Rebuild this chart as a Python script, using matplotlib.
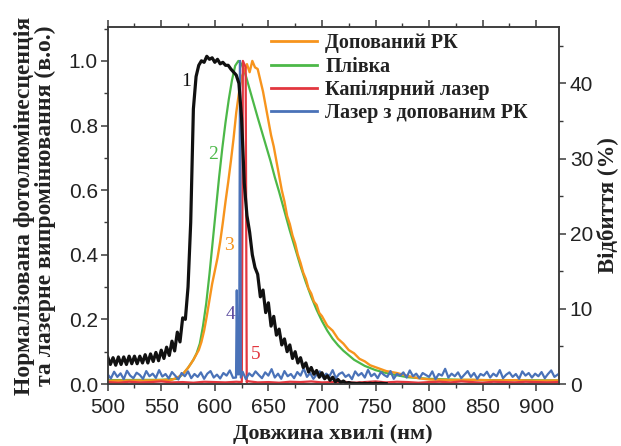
import numpy as np
import matplotlib
matplotlib.use("Agg")
import matplotlib.pyplot as plt
from matplotlib.lines import Line2D
from matplotlib.ticker import MultipleLocator, FormatStrFormatter

# ---------------- data ----------------
# Reflectance of the photonic crystal (curve 1), %, sampled every 2.5 nm from 500 nm
refl_start, refl_step = 500.0, 2.5
refl_pct = [3.6, 2.6, 3.5, 2.5, 3.6, 2.6, 3.6, 2.6, 3.7, 2.7, 3.7, 2.7, 3.7, 2.8, 3.9, 2.8,
            4.0, 3.0, 4.2, 3.1, 4.5, 3.4, 4.9, 3.8, 5.7, 4.4, 6.9, 5.6, 8.8, 8.6, 12.9, 21.5,
            36.6, 40.9, 42.4, 43.0, 42.8, 43.6, 43.2, 43.4, 42.8, 43.2, 42.6, 42.8, 42.4, 42.4,
            41.9, 41.5, 41.1, 40.0, 35.3, 26.7, 22.4, 20.2, 17.2, 15.5, 14.6, 11.6, 12.5, 9.5,
            10.8, 7.7, 9.0, 6.5, 7.3, 5.2, 6.0, 4.3, 5.2, 3.4, 4.3, 2.8, 3.5, 2.2, 2.8, 1.6,
            2.2, 1.3, 1.8, 0.9, 1.5, 0.7, 1.1, 0.5, 0.9, 0.3, 0.6, 0.2, 0.4, 0.1, 0.2, 0.1,
            0.1, 0.05, 0.1, 0.05, 0.1, 0.05, 0.1, 0.05, 0.1, 0.05, 0.1, 0.05, 0.05]

# Photoluminescence of the film (curve 2), normalized
film_wl = [500, 550, 565, 570, 575, 580, 583, 586, 589, 592, 595, 598, 601, 604, 607, 610,
           613, 616, 619, 622, 625, 628, 631, 634, 637, 640, 644, 648, 652, 656, 660, 665,
           670, 675, 680, 685, 690, 695, 700, 705, 710, 715, 720, 730, 740, 750, 760, 770,
           780, 800, 830, 860, 890, 920]
film_pl = [0.012, 0.013, 0.016, 0.03, 0.05, 0.075, 0.095, 0.125, 0.18, 0.25, 0.34, 0.44,
           0.54, 0.64, 0.73, 0.81, 0.88, 0.94, 0.985, 1.0, 0.99, 0.965, 0.93, 0.895, 0.86,
           0.825, 0.78, 0.735, 0.69, 0.64, 0.595, 0.535, 0.475, 0.42, 0.365, 0.315, 0.27,
           0.23, 0.195, 0.165, 0.14, 0.12, 0.103, 0.075, 0.056, 0.043, 0.034, 0.027, 0.021,
           0.016, 0.013, 0.012, 0.012, 0.011]

# Photoluminescence of the doped liquid crystal (curve 3), normalized
lc_wl = [500, 540, 560, 565, 567.5, 570, 572.5, 575, 577.5, 580, 582.5, 585, 587.5, 590,
         592.5, 595, 597.5, 600, 602.5, 605, 607.5, 610, 612.5, 615, 617.5, 620, 622.5, 625,
         627.5, 630, 632.5, 635, 637.5, 640, 642.5, 645, 647.5, 650, 652.5, 655, 657.5, 660,
         662.5, 665, 667.5, 670, 672.5, 675, 677.5, 680, 682.5, 685, 687.5, 690, 692.5, 695,
         697.5, 700, 705, 710, 715, 720, 725, 730, 735, 740, 745, 750, 760, 770, 780, 790,
         800, 820, 840, 860, 880, 900, 920]
lc_pl = [0.010, 0.011, 0.013, 0.02, 0.025, 0.03, 0.04, 0.05, 0.062, 0.075, 0.09, 0.105,
         0.13, 0.165, 0.21, 0.26, 0.31, 0.35, 0.39, 0.44, 0.5, 0.565, 0.625, 0.69, 0.76,
         0.84, 0.9, 0.95, 0.97, 0.99, 0.965, 1.0, 0.98, 0.975, 0.94, 0.905, 0.86, 0.815, 0.77,
         0.735, 0.69, 0.645, 0.6, 0.565, 0.52, 0.495, 0.46, 0.435, 0.4, 0.375, 0.345, 0.325,
         0.295, 0.28, 0.255, 0.245, 0.22, 0.21, 0.18, 0.165, 0.14, 0.125, 0.105, 0.095, 0.078,
         0.07, 0.058, 0.052, 0.04, 0.034, 0.025, 0.018, 0.014, 0.012, 0.013, 0.011, 0.012,
         0.010, 0.011]

# Capillary laser emission (curve 5): flat baseline every 10 nm plus the laser line
cap_base = [0.006, 0.004, 0.007, 0.005, 0.006, 0.008, 0.005, 0.006, 0.004, 0.007, 0.006,
            0.005, 0.007, 0.009, 0.005, 0.006, 0.004, 0.007, 0.006, 0.008, 0.005, 0.006,
            0.007, 0.004, 0.006, 0.008, 0.005, 0.007, 0.006, 0.004, 0.006, 0.007, 0.005,
            0.008, 0.006, 0.004, 0.007, 0.006, 0.005, 0.007, 0.006, 0.005, 0.006]
cap_peak_wl = [625.2, 626.2, 628.8, 629.8]
cap_peak = [0.006, 1.0, 0.98, 0.006]

# Laser with doped liquid crystal (curve 4): noisy baseline every 3 nm plus the laser lines
dlc_base = [0.030, 0.017, 0.038, 0.022, 0.033, 0.015, 0.041, 0.026, 0.018, 0.035, 0.028, 0.016,
            0.040, 0.024, 0.032, 0.019, 0.043, 0.023, 0.031, 0.017, 0.037, 0.026, 0.014, 0.034,
            0.024, 0.039, 0.018, 0.031, 0.022, 0.036, 0.016, 0.032, 0.040, 0.020, 0.029, 0.017,
            0.034, 0.026, 0.042, 0.019, 0.031, 0.022, 0.038, 0.015, 0.033, 0.024, 0.039, 0.028,
            0.018, 0.036, 0.026, 0.046, 0.020, 0.032, 0.016, 0.040, 0.024, 0.031, 0.018, 0.037,
            0.026, 0.048, 0.022, 0.034, 0.016, 0.029, 0.039, 0.020, 0.032, 0.024, 0.043, 0.018,
            0.031, 0.036, 0.022, 0.029, 0.015, 0.039, 0.026, 0.034, 0.020, 0.044, 0.024, 0.032,
            0.018, 0.037, 0.028, 0.022, 0.040, 0.016, 0.031, 0.026, 0.036, 0.020, 0.042, 0.024,
            0.032, 0.018, 0.034, 0.028, 0.022, 0.039, 0.015, 0.031, 0.026, 0.047, 0.020, 0.032,
            0.024, 0.036, 0.018, 0.029, 0.040, 0.022, 0.034, 0.016, 0.031, 0.026, 0.038, 0.020,
            0.032, 0.024, 0.043, 0.018, 0.029, 0.036, 0.022, 0.031, 0.016, 0.039, 0.026, 0.034,
            0.020, 0.032, 0.024, 0.037, 0.018, 0.031, 0.042, 0.022, 0.029]
dlc_peak_wl = [619.8, 620.5, 621.3, 622.7, 623.5, 624.3]
dlc_peak = [0.02, 0.29, 0.03, 0.03, 1.0, 0.02]

legend_labels = ["Допований РК", "Плівка", "Капілярний лазер", "Лазер з допованим РК"]
curve_numbers = ["1", "2", "3", "4", "5"]
curve_number_pos = [(573, 0.935), (598, 0.71), (613, 0.43), (615, 0.215), (638.5, 0.09)]

C_BLACK = "#111111"
C_GREEN = "#4cb848"
C_ORANGE = "#f7941d"
C_RED = "#e2373f"
C_BLUE = "#4a72b8"
C_PURPLE = "#5a4a9e"
C_TEXT = "#222222"


def merge(base_wl, base, peak_wl, peak):
    """Insert a narrow emission line into a sampled baseline."""
    base_wl = np.asarray(base_wl, float)
    base = np.asarray(base, float)
    keep = (base_wl < peak_wl[0]) | (base_wl > peak_wl[-1])
    wl = np.concatenate([base_wl[keep], peak_wl])
    val = np.concatenate([base[keep], peak])
    order = np.argsort(wl)
    return wl[order], val[order]


# ---------------- figure ----------------
plt.rcParams["font.family"] = ["Liberation Sans", "DejaVu Sans"]
fig = plt.figure(figsize=(6.21, 4.46), dpi=100)
ax = fig.add_axes([0.1734, 0.139, 0.7263, 0.8005])
ax2 = ax.twinx()

cap_wl, cap_val = merge(np.linspace(500, 920, len(cap_base)), cap_base, cap_peak_wl, cap_peak)
dlc_wl, dlc_val = merge(np.linspace(500, 920, len(dlc_base)), dlc_base, dlc_peak_wl, dlc_peak)

ax.plot(film_wl, film_pl, color=C_GREEN, lw=1.6, zorder=2)
ax.plot(lc_wl, lc_pl, color=C_ORANGE, lw=1.7, zorder=3)
ax.plot(cap_wl, cap_val, color=C_RED, lw=1.6, zorder=4)
ax.plot(dlc_wl, dlc_val, color=C_BLUE, lw=1.6, zorder=5)

refl_wl = refl_start + refl_step * np.arange(len(refl_pct))
ax2.plot(refl_wl, refl_pct, color=C_BLACK, lw=2.3)

ax.set_xlim(500, 921)
ax.set_ylim(0, 1.105)
ax2.set_ylim(0, 47.5)

ax.xaxis.set_major_locator(MultipleLocator(50))
ax.xaxis.set_minor_locator(MultipleLocator(25))
ax.yaxis.set_major_locator(MultipleLocator(0.2))
ax.yaxis.set_minor_locator(MultipleLocator(0.1))
ax2.yaxis.set_major_locator(MultipleLocator(10))
ax2.yaxis.set_minor_locator(MultipleLocator(5))
ax.yaxis.set_major_formatter(FormatStrFormatter("%.1f"))

spine_c = "#3a3a3a"
for a in (ax, ax2):
    for s in a.spines.values():
        s.set_color(spine_c)
        s.set_linewidth(1.1)
ax.tick_params(which="both", direction="out", color=spine_c, top=True, labelsize=15,
               labelcolor=C_TEXT)
ax.tick_params(axis="x", pad=5)
ax.tick_params(axis="y", pad=2)
ax.tick_params(which="major", length=5, width=1.1)
ax.tick_params(which="minor", length=3, width=1.0)
ax2.tick_params(which="both", direction="out", color=spine_c, labelsize=15,
                labelcolor=C_TEXT, pad=3)
ax2.tick_params(which="major", length=5, width=1.1)
ax2.tick_params(which="minor", length=3, width=1.0)

serif_bold = dict(family=["Liberation Serif", "DejaVu Serif"], weight="bold")
ax.set_xlabel("Довжина хвилі (нм)", fontsize=16, labelpad=5, color=C_TEXT, **serif_bold)
ax.set_ylabel("Нормалізована фотолюмінесценція\nта лазерне випромінювання (в.о.)",
              fontsize=17, labelpad=9, linespacing=1.0, color=C_TEXT, **serif_bold)
ax2.set_ylabel("Відбиття (%)", fontsize=16.5, labelpad=2, color=C_TEXT, **serif_bold)

handles = [Line2D([], [], color=c, lw=2.0) for c in (C_ORANGE, C_GREEN, C_RED, C_BLUE)]
leg = ax.legend(handles, legend_labels, loc="upper left", bbox_to_anchor=(0.362, 0.982),
                frameon=False, handlelength=2.3, handletextpad=0.4, labelspacing=0.16,
                borderaxespad=0, borderpad=0,
                prop=dict(family=["Liberation Serif", "DejaVu Serif"], weight="bold", size=14.5))
for t in leg.get_texts():
    t.set_color(C_TEXT)

num_colors = [C_BLACK, C_GREEN, C_ORANGE, C_PURPLE, C_RED]
for lab, (x, y), c in zip(curve_numbers, curve_number_pos, num_colors):
    ax.text(x, y, lab, color=c, fontsize=14, ha="center", va="center",
            family=["Liberation Serif", "DejaVu Serif"], zorder=8)

fig.savefig("out.png", dpi=100)
